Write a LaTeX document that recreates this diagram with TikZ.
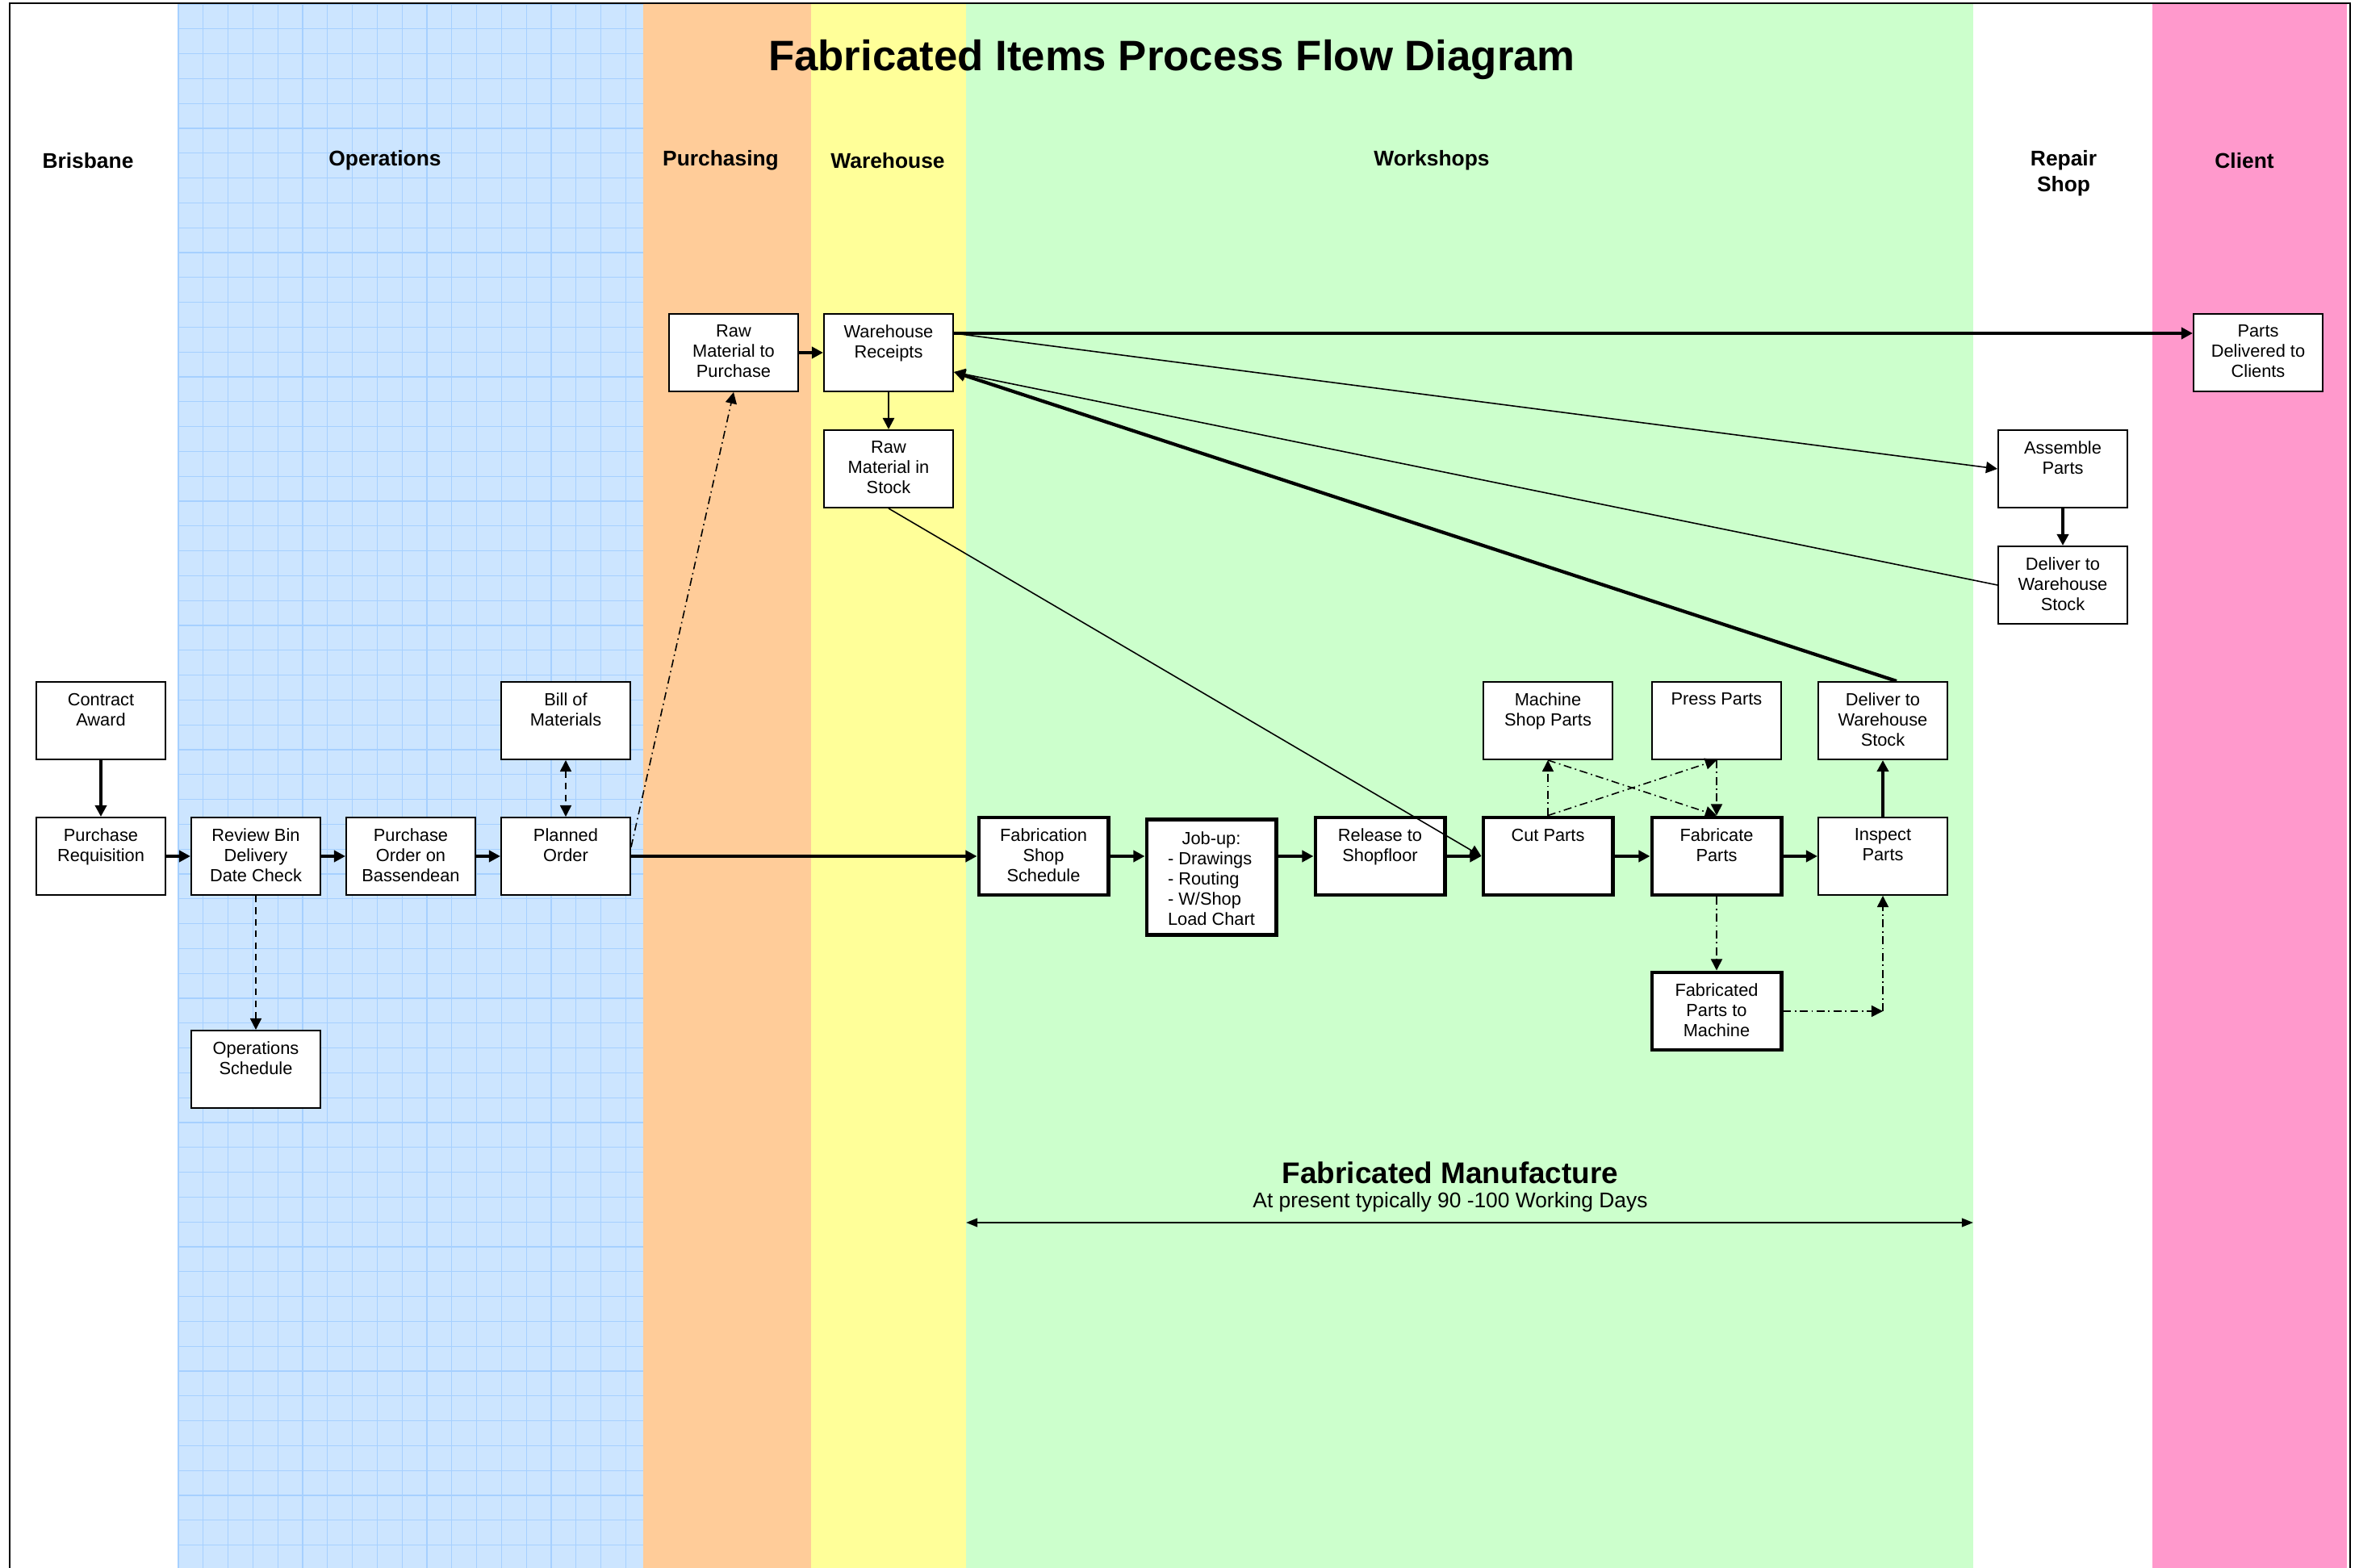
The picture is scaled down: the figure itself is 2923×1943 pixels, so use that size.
\documentclass[tikz,border=0pt]{standalone}
\usepackage{fontspec}
\setmainfont{Liberation Sans}
\usetikzlibrary{arrows.meta,calc}

\definecolor{opsblue}{HTML}{CCE5FF}
\definecolor{gridblue}{HTML}{A6D0FF}
\definecolor{buyorange}{HTML}{FFCC99}
\definecolor{storeyellow}{HTML}{FFFF99}
\definecolor{shopgreen}{HTML}{CCFFCC}
\definecolor{clientpink}{HTML}{FF99CC}

\newcommand{\boxlines}[2][0.68cm]{\parbox[c][#1][t]{1.5cm}{\centering #2}}

\begin{document}
\begin{tikzpicture}[x=0.01cm, y=-0.01cm,
    >={Triangle[length=4pt,width=4pt]},
    procbox/.style={draw, fill=white, line width=0.55pt, minimum width=1.6cm,
      minimum height=0.96cm, inner xsep=0.05cm, inner ysep=0.14cm,
      font=\fontsize{6.2}{7.1}\selectfont},
    boldbox/.style={procbox, line width=1.4pt},
    lanelabel/.style={font=\bfseries\fontsize{7.5}{9.1}\selectfont, align=center},
    gridline/.style={gridblue, line width=0.3pt},
    flow/.style={->, line width=1.2pt},
    link/.style={->, line width=0.45pt},
    dashlink/.style={->, line width=0.45pt, dash pattern=on 2.3pt off 1.8pt},
    dotlink/.style={->, line width=0.45pt, dash pattern=on 2.8pt off 1.3pt on 0.5pt off 1.3pt}]
  \def\rowy{1061}
  \def\upy{893}
  \def\topy{437}
  \def\gap{30.8}

  \useasboundingbox (0,0) rectangle (2923,1943);

  \fill[opsblue] (221,5) rectangle (797,1960);
  \foreach \i in {0,...,18} \draw[gridline] ({221+\gap*\i},5) -- ({221+\gap*\i},1960);
  \foreach \j in {0,...,63} \draw[gridline] (221,{5+\gap*\j}) -- (797,{5+\gap*\j});
  \fill[buyorange] (797,5) rectangle (1005,1960);
  \fill[storeyellow] (1005,5) rectangle (1197,1960);
  \fill[shopgreen] (1197,5) rectangle (2445,1960);
  \fill[clientpink] (2667,5) rectangle (2908,1960);
  \draw[line width=0.6pt] (12,1960) -- (12,4) -- (2912,4) -- (2912,1960);

  \node[font=\bfseries\fontsize{15}{18}\selectfont] (title) at (1452,74) {Fabricated Items Process Flow Diagram};

  \node[lanelabel] (brisbane) at (109,199) {Brisbane};
  \node[lanelabel] (operations) at (477,199) {Operations};
  \node[lanelabel] (purchasing) at (893,199) {Purchasing};
  \node[lanelabel] (warehouse) at (1100,199) {Warehouse};
  \node[lanelabel] (workshops) at (1774,199) {Workshops};
  \node[lanelabel] (repairshop) at (2557,215) {Repair\\Shop};
  \node[lanelabel] (client) at (2781,199) {Client};

  \node[procbox] (contract) at (125,\upy) {\boxlines{Contract\\Award}};
  \node[procbox] (purreq) at (125,\rowy) {\boxlines{Purchase\\Requisition}};
  \node[procbox] (review) at (317,\rowy) {\boxlines{Review Bin\\Delivery\\Date Check}};
  \node[procbox] (purorder) at (509,\rowy) {\boxlines{Purchase\\Order on\\Bassendean}};
  \node[procbox] (planned) at (701,\rowy) {\boxlines{Planned\\Order}};
  \node[procbox] (bom) at (701,\upy) {\boxlines{Bill of\\Materials}};
  \node[procbox] (opsched) at (317,1325) {\boxlines{Operations\\Schedule}};

  \node[procbox] (rawbuy) at (909,\topy) {\boxlines{Raw\\Material to\\Purchase}};
  \node[procbox] (whreceipt) at (1101,\topy) {\boxlines{Warehouse\\Receipts}};
  \node[procbox] (rawstock) at (1101,581) {\boxlines{Raw\\Material in\\Stock}};

  \node[boldbox] (fabsched) at (1293,\rowy) {\boxlines{Fabrication\\Shop\\Schedule}};
  \node[boldbox, anchor=north] (jobup) at (1501,1013) {\boxlines[1.15cm]{\begin{tabular}[t]{@{}l@{}}\multicolumn{1}{@{}c@{}}{Job-up:}\\- Drawings\\- Routing\\- W/Shop\\Load Chart\end{tabular}}};
  \node[boldbox] (release) at (1710,\rowy) {\boxlines{Release to\\Shopfloor}};
  \node[boldbox] (cut) at (1918,\rowy) {\boxlines{Cut Parts}};
  \node[boldbox] (fabricate) at (2127,\rowy) {\boxlines{Fabricate\\Parts}};
  \node[procbox] (inspect) at (2333,\rowy) {\boxlines{Inspect\\Parts}};
  \node[procbox] (machine) at (1918,\upy) {\boxlines{Machine\\Shop Parts}};
  \node[procbox] (press) at (2127,\upy) {\boxlines{Press Parts}};
  \node[procbox] (wsdeliver) at (2333,\upy) {\boxlines{Deliver to\\Warehouse\\Stock}};
  \node[boldbox] (fabmachine) at (2127,1253) {\boxlines{Fabricated\\Parts to\\Machine}};

  \node[procbox] (assemble) at (2556,581) {\boxlines{Assemble\\Parts}};
  \node[procbox] (rsdeliver) at (2556,725) {\boxlines{Deliver to\\Warehouse\\Stock}};
  \node[procbox] (delivered) at (2798,\topy) {\boxlines{Parts\\Delivered to\\Clients}};

  \node[font=\bfseries\fontsize{10.5}{12}\selectfont] (manufacture) at (1797,1453) {Fabricated Manufacture};
  \node[font=\fontsize{7.5}{9}\selectfont] (workdays) at (1797,1490) {At present typically 90 -100 Working Days};
  \coordinate (spanleft) at (1197,1515);
  \coordinate (spanright) at (2445,1515);
  \draw[<->, >={Triangle[length=4pt,width=3pt]}, line width=0.6pt] (spanleft) -- (spanright);

  \coordinate (whout) at ($(whreceipt.east)+(0,-24)$);
  \coordinate (whin) at ($(whreceipt.east)+(0,24)$);
  \coordinate (wsout) at ($(wsdeliver.north)+(17,0)$);
  \coordinate (turn) at (inspect |- fabmachine);

  \draw[flow] (contract) -- (purreq);
  \draw[flow] (purreq) -- (review);
  \draw[flow] (review) -- (purorder);
  \draw[flow] (purorder) -- (planned);
  \draw[dashlink, <->] (bom) -- (planned);
  \draw[dashlink] (review) -- (opsched);
  \draw[dotlink] (planned.8) -- (rawbuy.south);

  \draw[flow] (rawbuy) -- (whreceipt);
  \draw[link, line width=0.7pt] (whreceipt) -- (rawstock);
  \draw[flow] (whout) -- (whout -| delivered.west);
  \draw[link] (whout) -- (assemble.west);
  \draw[flow] (assemble) -- (rsdeliver);
  \draw[link] (rsdeliver.west) -- (whin);
  \draw[flow] (wsout) -- (whin);
  \draw[link] (rawstock.south) -- (cut.west);

  \draw[flow] (planned) -- (fabsched);
  \draw[flow] (fabsched.east) -- (fabsched.east -| jobup.west);
  \draw[flow] (jobup.east |- release.west) -- (release.west);
  \draw[flow] (release) -- (cut);
  \draw[flow] (cut) -- (fabricate);
  \draw[flow] (fabricate) -- (inspect);
  \draw[flow] (inspect) -- (wsdeliver);

  \draw[dotlink] (cut.north) -- (machine.south);
  \draw[dotlink] (cut.north) -- (press.south);
  \draw[dotlink] (machine.south) -- (fabricate.north);
  \draw[dotlink] (press) -- (fabricate);
  \draw[dotlink] (fabricate) -- (fabmachine);
  \draw[dotlink] (fabmachine) -- (turn);
  \draw[dotlink] (turn) -- (inspect);
\end{tikzpicture}
\end{document}
